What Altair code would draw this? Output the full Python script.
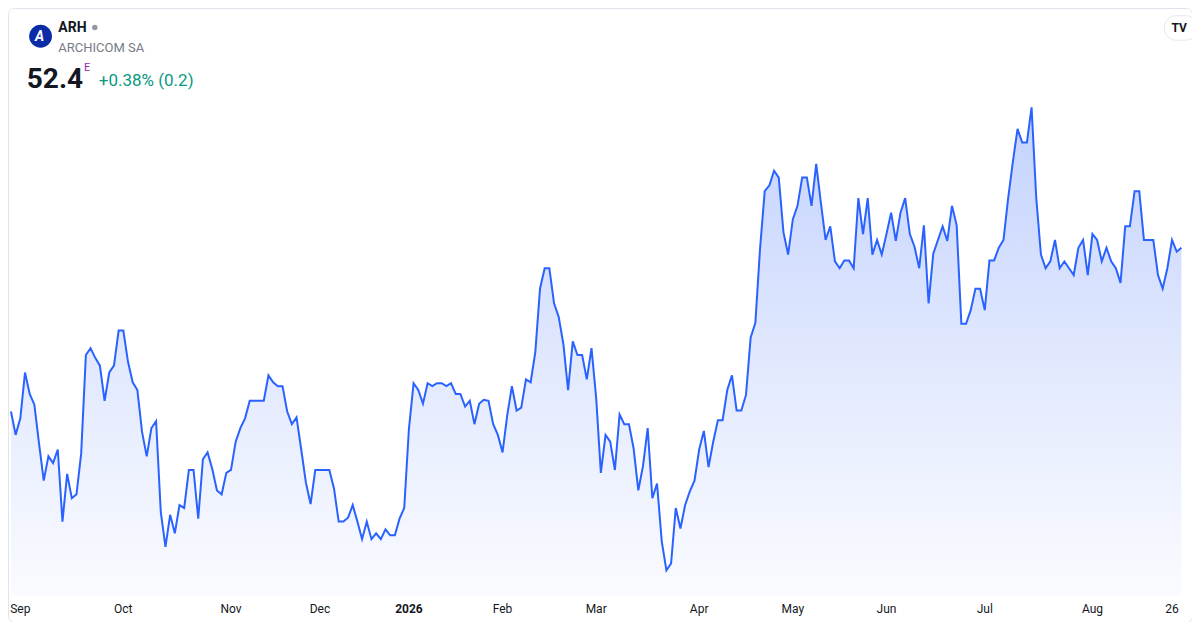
import altair as alt
import pandas as pd

# ---------------- data ----------------
SYMBOL = "ARH"
COMPANY = "ARCHICOM SA"
LAST_PRICE = "52.4"
CHANGE_TEXT = "+0.38% (0.2)"

close_aug_oct = [44.0, 42.8, 43.65, 46.0, 44.9, 44.35, 42.35, 40.45, 41.7, 41.35,
                 42.05, 38.35, 40.8, 39.55, 39.75, 41.85, 46.9, 47.25, 46.75, 46.35,
                 44.55, 46.0, 46.35, 48.15, 48.15, 46.55, 45.5, 45.1, 42.95, 41.7,
                 43.15, 43.5, 38.85, 37.05, 38.7, 37.75, 39.2, 39.05, 41.0, 41.0,
                 38.5, 41.55, 41.9, 41.05, 39.95, 39.75, 40.85, 41.0, 42.45, 43.15]
close_nov_dec = [43.65, 44.55, 44.55, 44.55, 44.55, 45.85, 45.5, 45.3, 45.3, 44.0,
                 43.35, 43.7, 42.05, 40.35, 39.25, 41.0, 41.0, 41.0, 41.0, 40.05,
                 38.35, 38.35, 38.55, 39.2, 38.35, 37.45, 38.35, 37.45, 37.75, 37.45,
                 37.95, 37.65, 37.65, 38.5]
close_jan_feb = [39.05, 43.1, 45.45, 45.1, 44.4, 45.45, 45.3, 45.45, 45.45, 45.3,
                 45.45, 44.9, 44.9, 44.25, 44.55, 43.35, 44.4, 44.6, 44.55, 43.35,
                 42.8, 41.9, 43.8, 45.3, 44.05, 44.2, 45.65, 45.5, 47.05, 50.3,
                 51.35, 51.35, 49.55, 48.85, 47.45, 45.1, 47.6, 46.9, 46.9, 45.65,
                 47.25, 44.7]
close_mar_apr = [40.85, 42.8, 42.45, 41.0, 43.85, 43.35, 43.35, 42.1, 39.95, 41.2,
                 43.15, 39.55, 40.3, 37.35, 35.85, 36.2, 39.05, 38.0, 39.2, 39.9,
                 40.45, 42.05, 43.0, 41.15, 42.45, 43.55, 43.55, 45.1, 45.85, 44.05,
                 44.05, 44.85]
close_apr_may = [47.8, 48.55, 52.35, 55.3, 55.6, 56.35, 56.0, 53.2, 52.05, 53.85,
                 54.55, 56.0, 56.0, 54.55, 56.7, 54.7, 52.8, 53.5, 51.7, 51.35,
                 51.75, 51.75, 51.35, 54.95, 53.1, 54.95, 52.05, 52.8, 52.05, 53.1,
                 54.2]
close_jun_jul = [52.75, 54.2, 54.95, 53.1, 52.45, 51.35, 53.55, 49.55, 52.1, 52.8,
                 53.5, 52.75, 54.55, 53.55, 48.5, 48.5, 49.2, 50.3, 50.3, 49.2,
                 51.75, 51.75, 52.4, 52.8, 54.95, 56.8, 58.5, 57.8, 57.8, 59.6,
                 54.95]
close_jul_aug = [52.05, 51.35, 51.7, 52.8, 51.35, 51.7, 51.35, 51.0, 52.4, 52.8,
                 51.0, 53.1, 52.8, 51.7, 52.4, 51.7, 51.35, 50.6, 53.5, 53.5,
                 55.3, 55.3, 52.8, 52.8, 52.8, 51.0, 50.3, 51.35, 52.8, 52.2,
                 52.4]

closes = (close_aug_oct + close_nov_dec + close_jan_feb + close_mar_apr
          + close_apr_may + close_jun_jul + close_jul_aug)

wse_holidays = ["2025-11-11", "2025-12-24", "2025-12-25", "2025-12-26", "2025-12-31",
                "2026-01-01", "2026-01-06", "2026-04-03", "2026-04-06", "2026-05-01",
                "2026-06-04"]
dates = pd.bdate_range("2025-08-28", periods=len(closes), freq="C", holidays=wse_holidays)

tick_index = [2, 24, 47, 66, 85, 105, 125, 147, 167, 187, 208, 231, 248]
tick_label = ["Sep", "Oct", "Nov", "Dec", "2026", "Feb", "Mar", "Apr", "May", "Jun",
              "Jul", "Aug", "26"]
tick_is_year = [0, 0, 0, 0, 1, 0, 0, 0, 0, 0, 0, 0, 0]

# ---------------- layout ----------------
W, H = 1184, 614
FX, FY = W / 1200, H / 630
STEP, X0 = 4.745, 3.0
FONT = "Roboto"
PANE_FLOOR = (1294 - 603) / 20   # price level at the bottom edge of the price pane

df = pd.DataFrame({"i": list(range(len(closes))), "date": dates.strftime("%Y-%m-%d"),
                   "close": closes})
ticks = pd.DataFrame({"i": tick_index, "label": tick_label, "year": tick_is_year})
one = pd.DataFrame({"k": [0]})

xs = alt.Scale(domain=[-X0 / STEP, (1200 - X0) / STEP], nice=False, zero=False)
ys = alt.Scale(domain=[(1294 - 630) / 20, 1294 / 20], nice=False, zero=False)

grad = alt.Gradient(
    gradient="linear", x1=0, y1=0, x2=0, y2=1,
    stops=[alt.GradientStop(color="#c3d2fe", offset=0),
           alt.GradientStop(color="#e3eafe", offset=0.55),
           alt.GradientStop(color="#fafbff", offset=1)])

base = alt.Chart(df)
area = base.mark_area(fill=grad, opacity=1, interpolate="linear", clip=True).encode(
    x=alt.X("i:Q", scale=xs, axis=None),
    y=alt.Y("close:Q", scale=ys, axis=None),
    y2=alt.datum(PANE_FLOOR),
)
line = base.mark_line(color="#2962ff", strokeWidth=2, interpolate="linear",
                      clip=True).encode(
    x=alt.X("i:Q", scale=xs, axis=None),
    y=alt.Y("close:Q", scale=ys, axis=None),
    tooltip=["date:N", "close:Q"],
)


def tick_layer(is_year, weight):
    return alt.Chart(ticks).transform_filter(alt.datum.year == is_year).mark_text(
        font=FONT, fontSize=12, color="#131722", fontWeight=weight,
        baseline="middle", align="center").encode(
        x=alt.X("i:Q", scale=xs, axis=None),
        y=alt.value(617 * FY),
        text="label:N",
    )


def label(txt, x, y, **kw):
    return alt.Chart(one).mark_text(font=FONT, **kw).encode(
        x=alt.value(x * FX), y=alt.value(y * FY), text=alt.value(txt))


logo = alt.Chart(one).mark_circle(color="#0b2ca6", opacity=1, size=520).encode(
    x=alt.value(33 * FX), y=alt.value(29 * FY))
dot = alt.Chart(one).mark_circle(color="#9598a1", opacity=1, size=30).encode(
    x=alt.value(88 * FX), y=alt.value(20 * FY))
tv_pill = alt.Chart(one).mark_rect(fill="white", stroke="#e6e8ee", strokeWidth=1,
                                   cornerRadius=12).encode(
    x=alt.value(1172 * FX), x2=alt.value(1206 * FX),
    y=alt.value(8 * FY), y2=alt.value(33 * FY))

layers = [
    area, line, tick_layer(0, "normal"), tick_layer(1, "bold"), logo,
    label("A", 32, 30, fontSize=14, fontWeight="bold", fontStyle="italic", color="white",
          align="center", baseline="middle"),
    label(SYMBOL, 51, 21, fontSize=14, fontWeight="bold", color="#131722",
          align="left", baseline="middle"),
    dot,
    label(COMPANY, 51, 41, fontSize=13, color="#787b86", align="left", baseline="middle"),
    label(LAST_PRICE, 19, 82, fontSize=28, fontWeight="bold", color="#131722",
          align="left", baseline="alphabetic"),
    label("E", 77, 65, fontSize=11, color="#9c27b0", align="left", baseline="alphabetic"),
    label(CHANGE_TEXT, 92, 80, fontSize=17, color="#089981", align="left",
          baseline="alphabetic"),
    tv_pill,
    label("TV", 1187, 21, fontSize=12, fontWeight="bold", color="#131722",
          align="center", baseline="middle"),
]

chart = alt.layer(*layers).properties(
    width=W, height=H, padding=0, autosize=alt.AutoSizeParams(type="none"),
    background="white",
).configure_view(stroke="#e0e3eb", strokeWidth=1, cornerRadius=6, fill="white")

chart.save("out.html", embed_options={"renderer": "svg", "actions": False})
